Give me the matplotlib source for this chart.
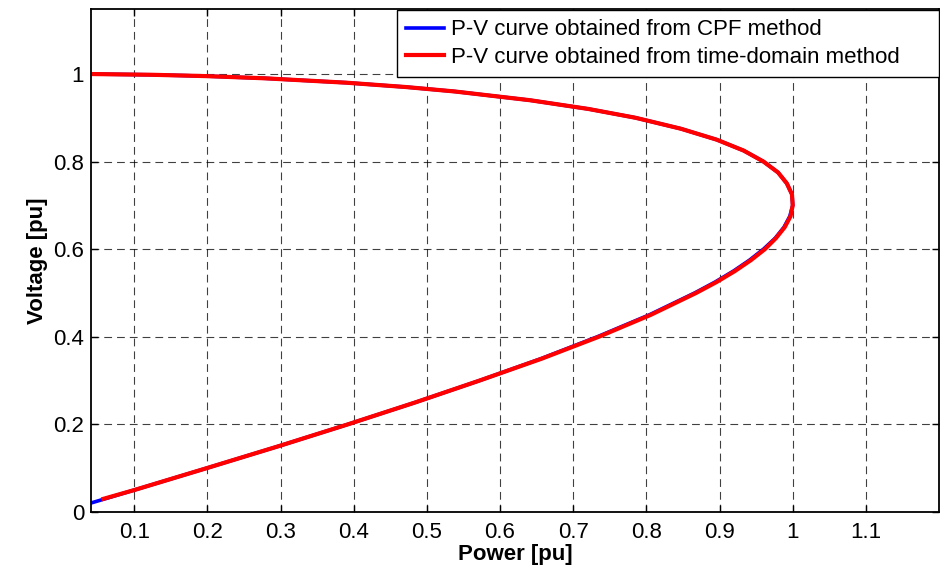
import matplotlib
matplotlib.use('Agg')
import matplotlib.pyplot as plt
from matplotlib.ticker import FuncFormatter

plt.rcParams['font.family'] = ['Liberation Sans', 'DejaVu Sans']

# points (power, voltage), from the low end of the nose curve up to V=1
v_cpf = [0.02, 0.05, 0.1, 0.15, 0.2, 0.25, 0.3, 0.35, 0.4, 0.45, 0.5, 0.525, 0.55, 0.575,
         0.6, 0.625, 0.65, 0.675, 0.7, 0.725, 0.75, 0.775, 0.8, 0.825, 0.85, 0.875, 0.9,
         0.92, 0.94, 0.96, 0.97, 0.98, 0.99, 0.995, 0.998, 0.9998]
p_cpf = [0.04, 0.1, 0.199, 0.297, 0.392, 0.484, 0.572, 0.656, 0.733, 0.804, 0.866, 0.894,
         0.919, 0.941, 0.96, 0.976, 0.988, 0.996, 1.0, 0.999, 0.992, 0.980, 0.96, 0.933,
         0.896, 0.847, 0.785, 0.721, 0.641, 0.538, 0.472, 0.39, 0.279, 0.199, 0.126, 0.04]

v_td = [0.03, 0.05, 0.1, 0.15, 0.2, 0.25, 0.3, 0.35, 0.4, 0.45, 0.5, 0.525, 0.55, 0.575,
        0.6, 0.625, 0.65, 0.675, 0.7, 0.725, 0.75, 0.775, 0.8, 0.825, 0.85, 0.875, 0.9,
        0.92, 0.94, 0.96, 0.97, 0.98, 0.99, 0.995, 0.998, 0.9998]
p_td = [0.058, 0.1, 0.199, 0.297, 0.392, 0.484, 0.572, 0.657, 0.735, 0.806, 0.868, 0.896,
        0.921, 0.943, 0.962, 0.977, 0.989, 0.997, 1.0, 0.999, 0.992, 0.980, 0.96, 0.933,
        0.896, 0.847, 0.785, 0.721, 0.641, 0.538, 0.472, 0.39, 0.279, 0.199, 0.126, 0.04]

xticks = [0.1, 0.2, 0.3, 0.4, 0.5, 0.6, 0.7, 0.8, 0.9, 1.0, 1.1]
yticks = [0, 0.2, 0.4, 0.6, 0.8, 1.0]

fig = plt.figure(figsize=(9.4, 5.69), dpi=100)
ax = fig.add_axes([0.0968, 0.1002, 0.9022, 0.8838])

ax.plot(p_cpf, v_cpf, color='#0000ff', lw=2.6, label='P-V curve obtained from CPF method')
ax.plot(p_td, v_td, color='#ff0000', lw=3.0, label='P-V curve obtained from time-domain method')

ax.set_xlim(0.041, 1.2)
ax.set_ylim(0, 1.148)
ax.set_xticks(xticks)
ax.set_yticks(yticks)
fmt = FuncFormatter(lambda v, p: '%g' % round(v, 3))
ax.xaxis.set_major_formatter(fmt)
ax.yaxis.set_major_formatter(fmt)
ax.tick_params(direction='in', top=True, right=True, labelsize=16, length=5, width=1)
ax.tick_params(axis='x', pad=7)
ax.tick_params(axis='y', pad=5)

ax.grid(True, color='black', linestyle=(0, (7, 4.5)), lw=0.8, alpha=0.75)
for s in ax.spines.values():
    s.set_linewidth(1.3)

ax.set_xlabel('Power [pu]', fontsize=16, fontweight='bold', labelpad=1)
ax.set_ylabel('Voltage [pu]', fontsize=16, fontweight='bold', labelpad=4)

# MATLAB-like legend box: wide frame with empty space on the right
leg = ax.legend(loc='upper right', bbox_to_anchor=(0.361, 0.0, 0.639, 0.998), mode='expand',
                fontsize=16, fancybox=False, framealpha=1, edgecolor='black',
                borderaxespad=0.0, handlelength=1.7, borderpad=0.42,
                labelspacing=0.28, handletextpad=0.3)
leg.get_frame().set_linewidth(1.0)

fig.savefig('out.png', dpi=100)
